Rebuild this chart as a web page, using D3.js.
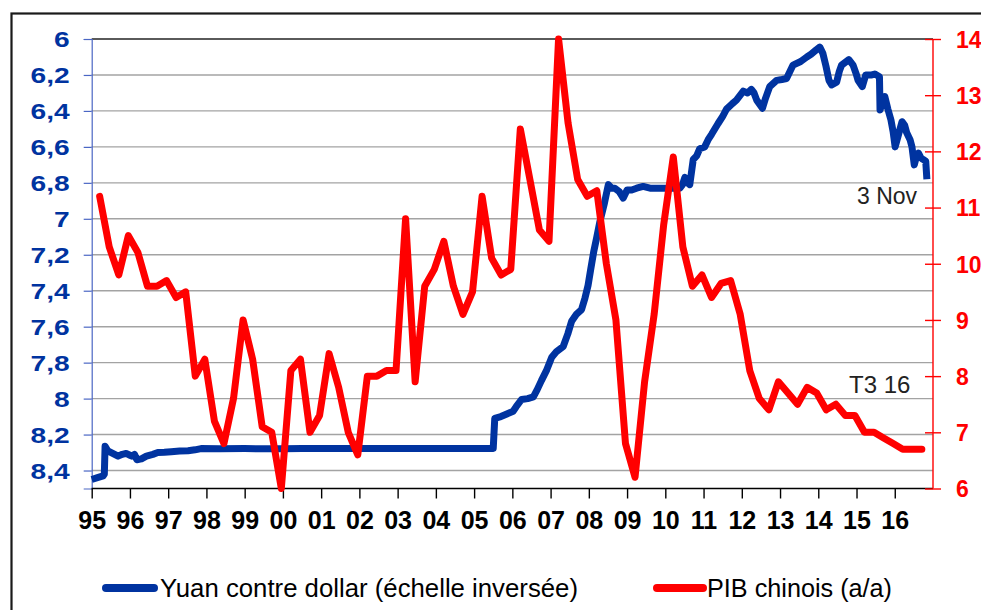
<!DOCTYPE html>
<html>
<head>
<meta charset="utf-8">
<script src="https://cdn.jsdelivr.net/npm/d3@7"></script>
<style>
  html, body { margin: 0; padding: 0; background: #fff; }
  svg { display: block; font-family: "Liberation Sans", Arial, sans-serif; }
</style>
</head>
<body>
<svg id="chart" width="981" height="610"></svg>
<script>
// ---------- DATA ----------
const yearLabels = ["95","96","97","98","99","00","01","02","03","04","05","06","07","08","09","10","11","12","13","14","15","16"];
const yearTicks = d3.range(1995, 2017);
const leftTicks = [6, 6.2, 6.4, 6.6, 6.8, 7, 7.2, 7.4, 7.6, 7.8, 8, 8.2, 8.4];
const rightTicks = [6, 7, 8, 9, 10, 11, 12, 13, 14];

// Yuan per dollar (decimal year, value) — inverted scale
const yuanDates = [1995.00,1995.15,1995.30,1995.33,1995.35,1995.42,1995.51,1995.60,1995.69,1995.80,1995.90,1996.00,1996.05,1996.12,1996.18,1996.30,1996.43,1996.60,1996.73,1996.90,1997.08,1997.30,1997.52,1997.70,1997.86,1998.35,1999.0,1999.6,2000.0,2000.5,2001.0,2001.6,2002.0,2002.5,2003.0,2003.5,2004.0,2004.5,2005.0,2005.50,2005.54,2005.70,2005.81,2006.02,2006.10,2006.24,2006.40,2006.55,2006.65,2006.76,2006.90,2007.03,2007.15,2007.33,2007.45,2007.55,2007.68,2007.81,2007.90,2007.98,2008.05,2008.13,2008.21,2008.29,2008.40,2008.51,2008.60,2008.68,2008.80,2008.90,2009.00,2009.12,2009.25,2009.42,2009.60,2009.86,2010.10,2010.38,2010.45,2010.51,2010.58,2010.64,2010.73,2010.82,2010.90,2011.03,2011.12,2011.21,2011.38,2011.50,2011.60,2011.75,2011.86,2012.04,2012.15,2012.25,2012.32,2012.39,2012.54,2012.62,2012.73,2012.91,2013.05,2013.17,2013.34,2013.54,2013.70,2013.81,2013.95,2014.04,2014.12,2014.20,2014.28,2014.35,2014.48,2014.55,2014.61,2014.80,2014.91,2015.00,2015.04,2015.15,2015.24,2015.40,2015.48,2015.60,2015.615,2015.68,2015.74,2015.82,2015.90,2015.96,2016.01,2016.10,2016.19,2016.26,2016.31,2016.40,2016.45,2016.51,2016.56,2016.62,2016.68,2016.74,2016.81,2016.84];
const yuanValues = [8.45,8.44,8.43,8.42,8.265,8.29,8.30,8.31,8.32,8.31,8.305,8.315,8.32,8.31,8.34,8.335,8.32,8.31,8.30,8.298,8.295,8.292,8.29,8.285,8.278,8.279,8.278,8.279,8.279,8.277,8.277,8.278,8.277,8.277,8.277,8.278,8.277,8.277,8.277,8.277,8.11,8.10,8.09,8.07,8.045,8.005,8.00,7.99,7.95,7.90,7.84,7.77,7.74,7.71,7.64,7.57,7.53,7.505,7.44,7.37,7.28,7.18,7.10,7.015,6.92,6.81,6.83,6.83,6.85,6.885,6.84,6.84,6.83,6.82,6.83,6.83,6.83,6.83,6.81,6.77,6.80,6.81,6.67,6.65,6.61,6.60,6.56,6.53,6.47,6.43,6.39,6.36,6.34,6.29,6.30,6.28,6.30,6.34,6.385,6.33,6.265,6.23,6.225,6.22,6.145,6.125,6.10,6.085,6.06,6.045,6.08,6.15,6.23,6.255,6.24,6.18,6.145,6.115,6.145,6.20,6.23,6.265,6.20,6.20,6.195,6.21,6.395,6.35,6.32,6.39,6.45,6.52,6.60,6.53,6.46,6.48,6.52,6.56,6.60,6.70,6.66,6.635,6.66,6.67,6.68,6.78];

// Chinese GDP growth y/y, quarterly from 1995 Q1 to 2016 Q3
const gdpStart = [1995, 1];
const gdpValues = [11.2,10.3,9.8,10.5, 10.2,9.6,9.6,9.7, 9.4,9.5,8.0,8.3, 7.2,6.8,7.6,9.0, 8.3,7.1,7.0,6.0,
  8.1,8.3,7.0,7.3, 8.4,7.8,7.0,6.6, 8.0,8.0,8.1,8.1, 10.8,7.9,9.6,9.9, 10.4,9.6,9.1,9.5,
  11.2,10.1,9.8,9.9, 12.4,11.5,10.6,10.4, 14.0,12.5,11.5,11.2, 11.3,10.0,9.0,6.8, 6.2,7.9,9.1,10.7,
  11.9,10.3,9.6,9.8, 9.4,9.65,9.7,9.1, 8.1,7.6,7.4,7.9, 7.7,7.5,7.8,7.7, 7.4,7.5,7.3,7.3,
  7.0,7.0,6.9,6.8, 6.7,6.7,6.7];

const legendLabels = ["Yuan contre dollar (échelle inversée)", "PIB chinois (a/a)"];
const annotations = ["3 Nov", "T3 16"];

// ---------- CHART ----------
const BLUE = "#0033a0", RED = "#ff0000";
const svg = d3.select("#chart");
const L = 91.7, R = 933, T = 39, B = 488.5;

const x = d3.scaleLinear().domain([1995, 2017]).range([L, R]);
const yL = d3.scaleLinear().domain([6, 8.5]).range([T, B]);
const yR = d3.scaleLinear().domain([6, 14]).range([B, T]);

// outer frame
svg.append("rect").attr("x", 11.5).attr("y", 13.5).attr("width", 1000).attr("height", 700)
  .attr("fill", "none").attr("stroke", "#1a1a1a").attr("stroke-width", 2.2);

// gridlines
svg.append("g").selectAll("line").data(leftTicks.filter(d => d !== 6)).join("line")
  .attr("x1", L).attr("x2", R).attr("y1", d => yL(d)).attr("y2", d => yL(d))
  .attr("stroke", "#a3a3a3").attr("stroke-width", 1.4);
// top border
svg.append("line").attr("x1", L).attr("x2", R).attr("y1", T).attr("y2", T)
  .attr("stroke", "#5a5a5a").attr("stroke-width", 2);

// left axis
const fmtL = d => Number.isInteger(d) ? String(d) : d.toFixed(1).replace(".", ",");
const gL = svg.append("g").attr("transform", `translate(${L},0)`)
  .call(d3.axisLeft(yL).tickValues(leftTicks).tickSize(8).tickFormat(fmtL));
gL.select(".domain").attr("stroke", "#4a66c4").attr("stroke-width", 1.2);
gL.selectAll(".tick line").attr("stroke", "#4a66c4").attr("stroke-width", 1.2);
gL.selectAll(".tick text").attr("x", 0).attr("dy", "0.35em")
  .attr("fill", BLUE).attr("font-size", 22).attr("font-weight", "bold")
  .attr("text-anchor", "end").attr("transform", "translate(-22,0) scale(1.28,1)");

// bottom axis
const gB = svg.append("g").attr("transform", `translate(0,${B})`)
  .call(d3.axisBottom(x).tickValues(yearTicks).tickSize(10).tickFormat((d, i) => yearLabels[i]));
gB.select(".domain").attr("stroke", "#000").attr("stroke-width", 1.4).attr("d", `M${L},0H${R}`);
gB.selectAll(".tick line").attr("stroke", "#000").attr("stroke-width", 1.4);
gB.selectAll(".tick text").attr("y", 40.5).attr("dy", 0)
  .attr("fill", "#000").attr("font-size", 25).attr("font-weight", "bold");

// right axis
const gR = svg.append("g").attr("transform", `translate(${R},0)`)
  .call(d3.axisRight(yR).tickValues(rightTicks).tickSize(8).tickFormat(d3.format("d")));
gR.select(".domain").attr("stroke", RED).attr("stroke-width", 1.4).attr("d", `M0,${T}V${B}`);
gR.selectAll(".tick line").attr("stroke", RED).attr("stroke-width", 1.4).attr("x1", -8).attr("x2", 8);
gR.selectAll(".tick text").attr("x", 23).attr("dy", "0.36em")
  .attr("fill", RED).attr("font-size", 23).attr("font-weight", "bold");

// blue line
const yuan = yuanDates.map((d, i) => [d, yuanValues[i]]);
svg.append("path").datum(yuan)
  .attr("d", d3.line().x(d => x(d[0])).y(d => yL(d[1])))
  .attr("fill", "none").attr("stroke", BLUE).attr("stroke-width", 7)
  .attr("stroke-linejoin", "round").attr("stroke-linecap", "butt");

// red line
const gdp = gdpValues.map((v, i) => {
  const q = (gdpStart[1] - 1 + i) % 4 + 1;
  const yr = gdpStart[0] + Math.floor((gdpStart[1] - 1 + i) / 4);
  return [yr + (q * 3 - 0.5) / 12, v];
});
svg.append("path").datum(gdp)
  .attr("d", d3.line().x(d => x(d[0])).y(d => yR(d[1])))
  .attr("fill", "none").attr("stroke", RED).attr("stroke-width", 7)
  .attr("stroke-linejoin", "round").attr("stroke-linecap", "round");

// annotations
svg.append("text").attr("x", 857).attr("y", 204).attr("font-size", 23).attr("fill", "#222").text(annotations[0]);
svg.append("text").attr("x", 849).attr("y", 393).attr("font-size", 24).attr("fill", "#222").text(annotations[1]);

// legend
const lg = svg.append("g");
lg.append("line").attr("x1", 106).attr("x2", 154).attr("y1", 588).attr("y2", 588)
  .attr("stroke", BLUE).attr("stroke-width", 8).attr("stroke-linecap", "round");
lg.append("text").attr("x", 160).attr("y", 597).attr("font-size", 26).attr("fill", "#000")
  .attr("textLength", 418).attr("lengthAdjust", "spacingAndGlyphs").text(legendLabels[0]);
lg.append("line").attr("x1", 657).attr("x2", 703).attr("y1", 588).attr("y2", 588)
  .attr("stroke", RED).attr("stroke-width", 8).attr("stroke-linecap", "round");
lg.append("text").attr("x", 707).attr("y", 597).attr("font-size", 26).attr("fill", "#000")
  .attr("textLength", 185).attr("lengthAdjust", "spacingAndGlyphs").text(legendLabels[1]);
</script>
</body>
</html>
